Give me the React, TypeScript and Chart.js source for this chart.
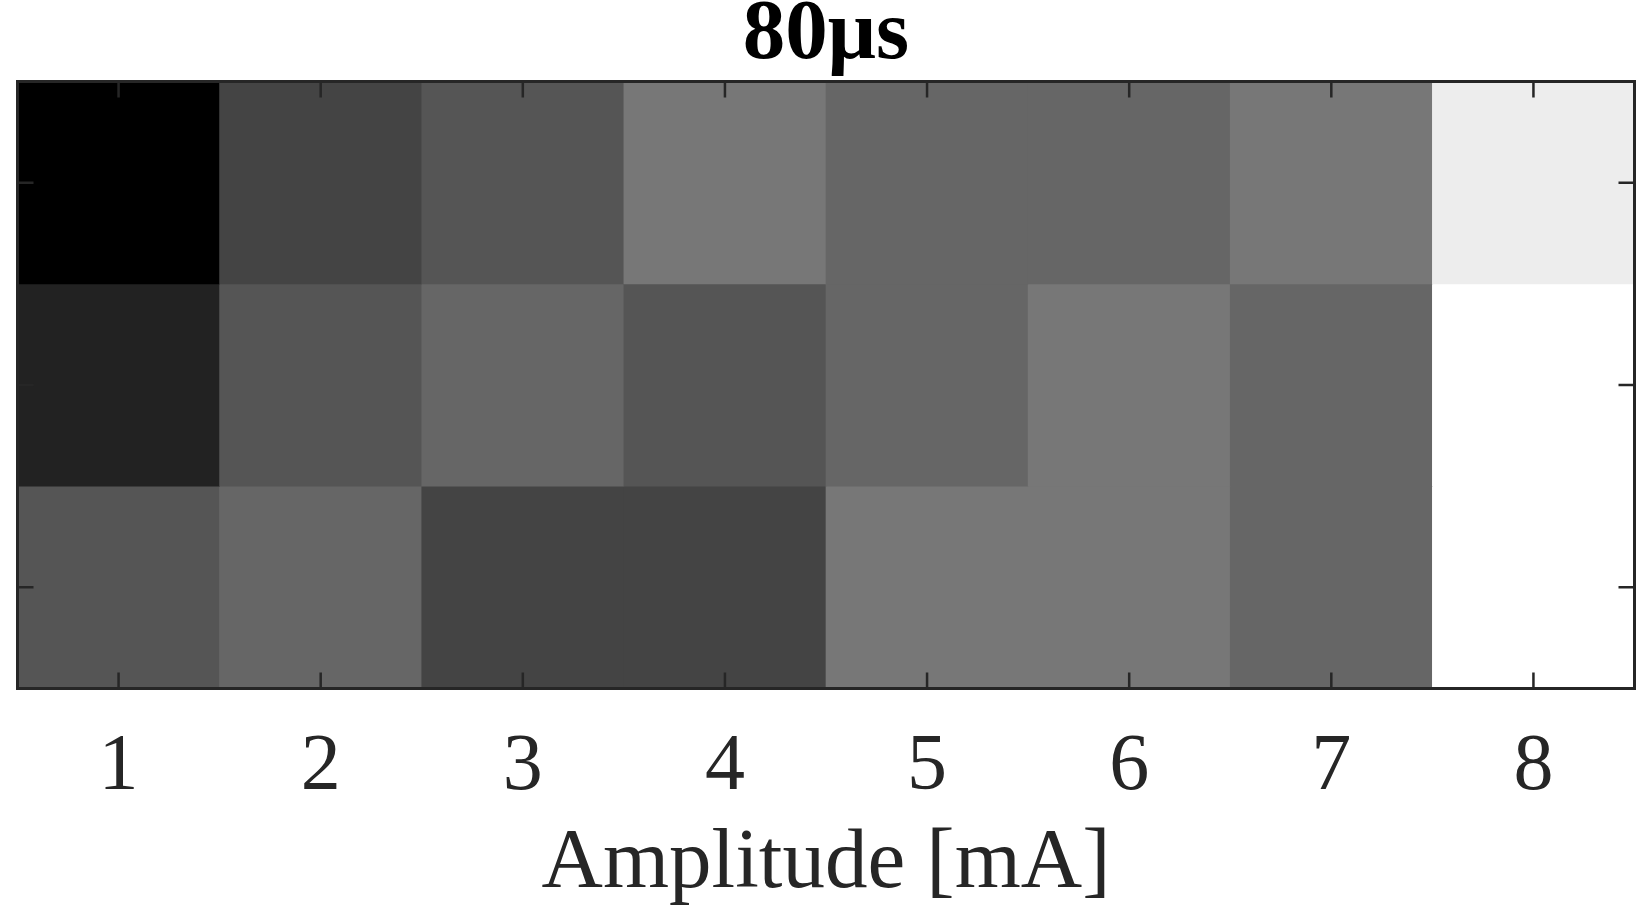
import React, { useEffect, useRef } from "react";
import { Chart, registerables } from "chart.js";

Chart.register(...registerables);

// ---- data ----
const amplitudeLabels = ["1", "2", "3", "4", "5", "6", "7", "8"];
const rowLevels = [3, 2, 1]; // top, middle, bottom row positions on the y scale
const topRow = [0.0, 0.267, 0.333, 0.467, 0.4, 0.4, 0.467, 0.929];
const middleRow = [0.133, 0.333, 0.4, 0.333, 0.4, 0.467, 0.4, 1.0];
const bottomRow = [0.333, 0.4, 0.267, 0.267, 0.467, 0.467, 0.4, 1.0];
const yTickValues = [1, 2, 3];
const chartTitle = "80μs";
const xAxisTitle = "Amplitude [mA]";

const rows = [topRow, middleRow, bottomRow];

function grayColor(v: number): string {
  const g = Math.round(Math.max(0, Math.min(1, v)) * 255);
  return `rgb(${g},${g},${g})`;
}

const SERIF = '"Liberation Serif", "Times New Roman", serif';

const framePlugin = {
  id: "frameTicks",
  afterDatasetsDraw(chart: any) {
    const { ctx, chartArea: a, scales } = chart;
    const x = scales.x;
    const y = scales.y;
    const tickLen = 16;
    ctx.save();
    ctx.strokeStyle = "#262626";
    ctx.lineWidth = 2.5;
    ctx.beginPath();
    amplitudeLabels.forEach((_, i) => {
      const px = x.getPixelForValue(i);
      ctx.moveTo(px, a.top);
      ctx.lineTo(px, a.top + tickLen);
      ctx.moveTo(px, a.bottom);
      ctx.lineTo(px, a.bottom - tickLen);
    });
    yTickValues.forEach((t) => {
      const py = y.getPixelForValue(t);
      ctx.moveTo(a.left, py);
      ctx.lineTo(a.left + tickLen, py);
      ctx.moveTo(a.right, py);
      ctx.lineTo(a.right - tickLen, py);
    });
    ctx.stroke();
    ctx.lineWidth = 3;
    ctx.strokeRect(a.left, a.top, a.right - a.left, a.bottom - a.top);
    ctx.restore();
  },
};

export default function App() {
  const canvasRef = useRef<HTMLCanvasElement | null>(null);

  useEffect(() => {
    const canvas = canvasRef.current;
    if (!canvas) return;
    const datasets = rows.map((row, ri) => ({
      label: `row ${ri + 1}`,
      data: amplitudeLabels.map(() => [rowLevels[ri] - 0.5, rowLevels[ri] + 0.5]),
      backgroundColor: row.map(grayColor),
      borderWidth: 0,
      barPercentage: 1,
      categoryPercentage: 1,
      grouped: false,
    }));

    const chart = new Chart(canvas, {
      type: "bar",
      data: { labels: amplitudeLabels, datasets: datasets as any },
      options: {
        animation: false,
        responsive: false,
        devicePixelRatio: 1,
        layout: { padding: { left: 17.5, right: 15.5, top: 0, bottom: 0 } },
        plugins: {
          legend: { display: false },
          tooltip: { enabled: false },
          title: {
            display: true,
            text: chartTitle,
            color: "#000000",
            font: { family: SERIF, size: 85, weight: "bold", lineHeight: 0.8 },
            padding: { top: 2, bottom: 11.5 },
          },
        },
        scales: {
          x: {
            type: "category",
            offset: true,
            grid: { display: false },
            border: { display: false },
            ticks: {
              color: "#262626",
              font: { family: SERIF, size: 80, lineHeight: 1 },
              padding: 31,
              maxRotation: 0,
              autoSkip: false,
            },
            title: {
              display: true,
              text: xAxisTitle,
              color: "#262626",
              font: { family: SERIF, size: 85, lineHeight: 1 },
              padding: { top: 0, bottom: 0.5 },
            },
            afterFit: (s: any) => {
              s.height = 219.5;
            },
          },
          y: {
            type: "linear",
            min: 0.5,
            max: 3.5,
            display: false,
          },
        },
      },
      plugins: [framePlugin],
    });
    return () => chart.destroy();
  }, []);

  return (
    <div style={{ position: "absolute", left: 0, top: 0, width: 1650, height: 908, background: "#ffffff" }}>
      <canvas ref={canvasRef} width={1650} height={908} style={{ display: "block" }} />
    </div>
  );
}
